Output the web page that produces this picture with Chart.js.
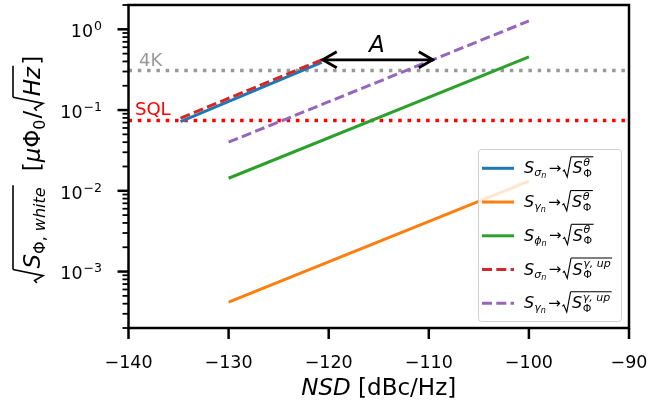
<!DOCTYPE html>
<html><head><meta charset="utf-8">
<script src="https://cdn.jsdelivr.net/npm/chart.js@4"></script>
<style>html,body{margin:0;padding:0;background:#fff}canvas{display:block}</style>
</head><body>
<canvas id="c" width="649" height="409"></canvas>
<script>
// ---- data ----
const xTicks = [-140, -130, -120, -110, -100, -90];
const yDecades = [-3, -2, -1, 0];
const blueX = [-134.8, -120.7];   const blueY = [0.072, 0.39];
const orangeX = [-130, -100];     const orangeY = [4.17e-4, 0.0132];
const greenX = [-130, -100];      const greenY = [0.0143, 0.455];
const redX = [-134.8, -120.7];    const redY = [0.0794, 0.419];
const purpleX = [-130, -100];     const purpleY = [0.040, 1.27];
const hlineX = [-140, -90];
const level4K = 0.31;
const levelSQL = 0.0741;
const arrowX = [-120.7, -109.5];  const arrowY = [0.419, 0.419];
const labelA = {x: -115.2, y: 0.612, text: 'A'};
const legendSubs = ['σ', 'γ', 'ϕ', 'σ', 'γ'];
const legendSups = ['θ', 'θ', 'θ', 'γ, up', 'γ, up'];

const pts = (xs, ys) => xs.map((x, i) => ({x, y: ys[i]}));
const C = {blue:'#1f77b4', orange:'#ff7f0e', green:'#2ca02c', red:'#d62728', purple:'#9467bd'};
const LW = 3;
const DASH = [10, 4.3];
const DOT = [3.5, 5.8];
const FF = '"DejaVu Sans"';

const datasets = [
  {data: pts(hlineX, [level4K, level4K]), borderColor: '#999999', borderWidth: 3.5, borderDash: DOT, order: 10},
  {data: pts(hlineX, [levelSQL, levelSQL]), borderColor: '#ff0000', borderWidth: 3.5, borderDash: DOT, order: 9},
  {data: pts(blueX, blueY), borderColor: C.blue, borderWidth: LW, order: 6},
  {data: pts(orangeX, orangeY), borderColor: C.orange, borderWidth: LW, order: 5},
  {data: pts(greenX, greenY), borderColor: C.green, borderWidth: LW, order: 4},
  {data: pts(redX, redY), borderColor: C.red, borderWidth: LW, borderDash: DASH, order: 3},
  {data: pts(purpleX, purpleY), borderColor: C.purple, borderWidth: LW, borderDash: DASH, order: 2},
  {data: pts(arrowX, arrowY), borderColor: '#000', borderWidth: 2.8, order: 1}
];
datasets.forEach(d => { d.pointRadius = 0; d.fill = false; d.tension = 0; d.borderCapStyle = 'butt'; });

function seq(ctx, x, y, parts) {
  for (const p of parts) {
    ctx.font = p.f;
    x += (p.pre || 0);
    ctx.fillText(p.t, x, y + (p.dy || 0));
    x += ctx.measureText(p.t).width + (p.post || 0);
  }
  return x;
}
function width(ctx, t, f) { ctx.font = f; return ctx.measureText(t).width; }

function radical(ctx, x, y, h, depth, lw) {
  ctx.save();
  ctx.lineWidth = lw; ctx.lineJoin = 'miter'; ctx.lineCap = 'butt';
  ctx.beginPath();
  ctx.moveTo(x, y - h * 0.12);
  ctx.lineTo(x + h * 0.09, y - h * 0.2);
  ctx.lineTo(x + h * 0.27, y + depth);
  ctx.lineTo(x + h * 0.5, y - h);
  ctx.stroke();
  ctx.restore();
  return x + h * 0.5;
}
function bar(ctx, x0, x1, y, lw) {
  ctx.save(); ctx.lineWidth = lw; ctx.beginPath(); ctx.moveTo(x0, y); ctx.lineTo(x1, y); ctx.stroke(); ctx.restore();
}

const deco = {
  id: 'deco',
  afterDraw(chart) {
    const ctx = chart.ctx, a = chart.chartArea;
    const xs = chart.scales.x, ys = chart.scales.y;
    ctx.save();
    ctx.fillStyle = '#000'; ctx.strokeStyle = '#000';
    ctx.textBaseline = 'alphabetic';

    // arrow heads
    const ax0 = xs.getPixelForValue(arrowX[0]), ax1 = xs.getPixelForValue(arrowX[1]);
    const ay = ys.getPixelForValue(arrowY[0]);
    ctx.lineWidth = 2.8; ctx.lineCap = 'butt'; ctx.lineJoin = 'miter';
    ctx.beginPath();
    ctx.moveTo(ax0 + 15, ay - 8); ctx.lineTo(ax0 + 1, ay); ctx.lineTo(ax0 + 15, ay + 8);
    ctx.moveTo(ax1 - 15, ay - 8); ctx.lineTo(ax1 - 1, ay); ctx.lineTo(ax1 - 15, ay + 8);
    ctx.stroke();

    // A label
    ctx.font = 'italic 23px ' + FF; ctx.textAlign = 'center'; ctx.textBaseline = 'middle';
    ctx.fillText(labelA.text, xs.getPixelForValue(labelA.x), ys.getPixelForValue(labelA.y));
    ctx.textBaseline = 'alphabetic'; ctx.textAlign = 'left';

    // 4K / SQL labels
    ctx.font = '18px ' + FF;
    ctx.fillStyle = '#999999';
    ctx.fillText('4K', xs.getPixelForValue(-138.95), ys.getPixelForValue(level4K) - 4);
    ctx.fillStyle = '#ff0000';
    ctx.fillText('SQL', xs.getPixelForValue(-139.35), ys.getPixelForValue(levelSQL) - 5.7);
    ctx.fillStyle = '#000';

    // frame
    ctx.lineWidth = 2.5;
    ctx.strokeRect(a.left, a.top, a.right - a.left, a.bottom - a.top);

    // x ticks & labels
    ctx.font = '17.5px ' + FF; ctx.textAlign = 'center';
    for (const v of xTicks) {
      const px = xs.getPixelForValue(v);
      ctx.lineWidth = 2.5;
      ctx.beginPath(); ctx.moveTo(px, a.bottom); ctx.lineTo(px, a.bottom + 11); ctx.stroke();
      ctx.fillText((v < 0 ? '\u2212' : '') + Math.abs(v), px, a.bottom + 40);
    }
    ctx.textAlign = 'left';

    // y ticks (major + minor) & labels
    for (let k = yDecades[0] - 1; k <= yDecades[yDecades.length - 1]; k++) {
      for (let m = 1; m <= 9; m++) {
        const v = m * Math.pow(10, k);
        if (v < ys.min * 0.999 || v > ys.max * 1.001) continue;
        const py = ys.getPixelForValue(v);
        ctx.lineWidth = m === 1 ? 2.5 : 1.8;
        ctx.beginPath(); ctx.moveTo(a.left, py); ctx.lineTo(a.left - (m === 1 ? 11 : 6), py); ctx.stroke();
      }
    }
    for (const k of yDecades) {
      const py = ys.getPixelForValue(Math.pow(10, k));
      const sup = (k < 0 ? '\u2212' : '') + Math.abs(k);
      const w = width(ctx, '10', '17.5px ' + FF) + width(ctx, sup, '12.5px ' + FF) + 1;
      seq(ctx, 102 - w, py + 7.8, [
        {t: '10', f: '17.5px ' + FF, post: 1},
        {t: sup, f: '12.5px ' + FF, dy: -7}
      ]);
    }

    // x axis title
    {
      const f1 = 'italic 23px ' + FF, f2 = '23px ' + FF;
      const w = width(ctx, 'NSD', f1) + width(ctx, ' [dBc/Hz]', f2);
      const cx = (a.left + a.right) / 2;
      seq(ctx, cx - w / 2, 395, [{t: 'NSD', f: f1}, {t: ' [dBc/Hz]', f: f2}]);
    }

    // y axis title (rotated)
    {
      ctx.save();
      ctx.translate(40, 283);
      ctx.rotate(-Math.PI / 2);
      const fs = 23;
      const fi = 'italic ' + fs + 'px ' + FF, fr = fs + 'px ' + FF;
      const si = 'italic 16px ' + FF, sr = '16px ' + FF;
      let x = radical(ctx, 0, 0, 27, 3, 1.6);
      const b0 = x;
      x = seq(ctx, x + 1, 0, [
        {t: 'S', f: fi, post: 0},
        {t: 'Φ', f: sr, dy: 5},
        {t: ', ', f: sr, dy: 5},
        {t: 'white', f: si, dy: 5, post: 1}
      ]);
      bar(ctx, b0, x + 1, -27, 1.6);
      x += 15;
      x = seq(ctx, x, 0, [
        {t: '[', f: fr},
        {t: 'μ', f: fi},
        {t: 'Φ', f: fr},
        {t: '0', f: sr, dy: 5},
        {t: '/', f: fr, pre: 1}
      ]);
      const r = radical(ctx, x, 0, 27, 3, 1.6);
      x = seq(ctx, r + 1, 0, [{t: 'Hz', f: fi, post: 1}]);
      bar(ctx, r, x, -27, 1.6);
      seq(ctx, x + 1, 0, [{t: ']', f: fr}]);
      ctx.restore();
    }

    // legend
    {
      const L = 478.5, T = 149.5, R = 621.5, B = 321.5, rr = 3;
      ctx.save();
      ctx.beginPath();
      ctx.moveTo(L + rr, T); ctx.lineTo(R - rr, T); ctx.quadraticCurveTo(R, T, R, T + rr);
      ctx.lineTo(R, B - rr); ctx.quadraticCurveTo(R, B, R - rr, B);
      ctx.lineTo(L + rr, B); ctx.quadraticCurveTo(L, B, L, B - rr);
      ctx.lineTo(L, T + rr); ctx.quadraticCurveTo(L, T, L + rr, T);
      ctx.closePath();
      ctx.fillStyle = 'rgba(255,255,255,0.8)'; ctx.fill();
      ctx.strokeStyle = '#d0d0d0'; ctx.lineWidth = 1; ctx.stroke();
      ctx.restore();
      const cols = [C.blue, C.orange, C.green, C.red, C.purple];
      const dashed = [false, false, false, true, true];
      for (let i = 0; i < 5; i++) {
        const yc = 168.3 + i * 33.75;
        ctx.save();
        ctx.strokeStyle = cols[i]; ctx.lineWidth = LW; ctx.lineCap = 'butt';
        ctx.setLineDash(dashed[i] ? DASH : []);
        ctx.beginPath(); ctx.moveTo(482, yc); ctx.lineTo(514, yc); ctx.stroke();
        ctx.restore();
        const yb = yc + 5;
        ctx.fillStyle = '#000'; ctx.strokeStyle = '#000';
        let x = seq(ctx, 524, yb, [
          {t: 'S', f: 'italic 16px ' + FF},
          {t: legendSubs[i], f: 'italic 11px ' + FF, dy: 3},
          {t: 'n', f: 'italic 8px ' + FF, dy: 5, post: 2.5},
          {t: '→', f: '15px ' + FF, dy: -0.5, post: 1.5}
        ]);
        const r = radical(ctx, x, yb, 16.5, 3.7, 1.1);
        x = seq(ctx, r + 1.5, yb, [{t: 'S', f: 'italic 16px ' + FF}]);
        const supF = 'italic 11px ' + FF;
        const wSup = seq(ctx, x + 0.5, yb - 7.5, [{t: legendSups[i], f: supF}]);
        const wSub = seq(ctx, x + 0.5, yb + 3.5, [{t: 'Φ', f: '11px ' + FF}]);
        bar(ctx, r, Math.max(wSup, wSub) + 1.5, yb - 16.5, 1.1);
      }
    }
    ctx.restore();
  }
};

new Chart(document.getElementById('c'), {
  type: 'line',
  data: {datasets},
  options: {
    responsive: false,
    animation: false,
    layout: {padding: {left: 128.5, right: 20, top: 5, bottom: 81}},
    plugins: {legend: {display: false}, tooltip: {enabled: false}},
    scales: {
      x: {type: 'linear', min: -140, max: -90, display: false},
      y: {type: 'logarithmic', min: 2e-4, max: 2, display: false}
    }
  },
  plugins: [deco]
});
</script>
</body></html>
